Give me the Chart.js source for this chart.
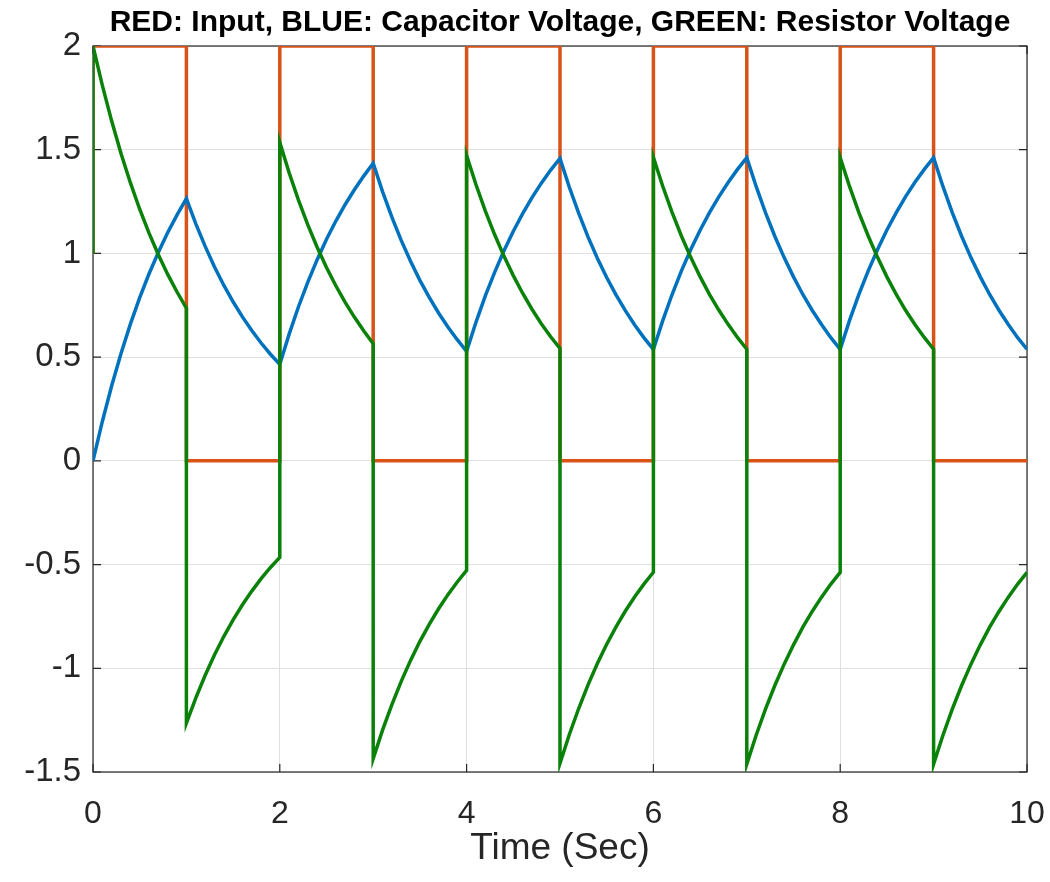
<!DOCTYPE html>
<html>
<head>
<meta charset="utf-8">
<title>RC circuit</title>
<script src="https://cdn.jsdelivr.net/npm/chart.js@4.4.1/dist/chart.umd.min.js"></script>
<style>
  html, body { margin: 0; padding: 0; background: #fff; }
  #wrap { width: 1050px; height: 882px; }
</style>
</head>
<body>
<div id="wrap"><canvas id="rcChart" width="1050" height="882"></canvas></div>
<script>
// sample times (each switching instant appears twice: before / after the edge)
const timeSec = [
  0, 0, 0.1, 0.2, 0.3, 0.4, 0.5, 0.6, 0.7, 0.8, 0.9,
  1, 1, 1.1, 1.2, 1.3, 1.4, 1.5, 1.6, 1.7, 1.8, 1.9,
  2, 2, 2.1, 2.2, 2.3, 2.4, 2.5, 2.6, 2.7, 2.8, 2.9,
  3, 3, 3.1, 3.2, 3.3, 3.4, 3.5, 3.6, 3.7, 3.8, 3.9,
  4, 4, 4.1, 4.2, 4.3, 4.4, 4.5, 4.6, 4.7, 4.8, 4.9,
  5, 5, 5.1, 5.2, 5.3, 5.4, 5.5, 5.6, 5.7, 5.8, 5.9,
  6, 6, 6.1, 6.2, 6.3, 6.4, 6.5, 6.6, 6.7, 6.8, 6.9,
  7, 7, 7.1, 7.2, 7.3, 7.4, 7.5, 7.6, 7.7, 7.8, 7.9,
  8, 8, 8.1, 8.2, 8.3, 8.4, 8.5, 8.6, 8.7, 8.8, 8.9,
  9, 9, 9.1, 9.2, 9.3, 9.4, 9.5, 9.6, 9.7, 9.8, 9.9,
  10
];

// RED: input square wave
const inputV = [
  1, 2, 2, 2, 2, 2, 2, 2, 2, 2, 2,
  2, 0, 0, 0, 0, 0, 0, 0, 0, 0, 0,
  0, 2, 2, 2, 2, 2, 2, 2, 2, 2, 2,
  2, 0, 0, 0, 0, 0, 0, 0, 0, 0, 0,
  0, 2, 2, 2, 2, 2, 2, 2, 2, 2, 2,
  2, 0, 0, 0, 0, 0, 0, 0, 0, 0, 0,
  0, 2, 2, 2, 2, 2, 2, 2, 2, 2, 2,
  2, 0, 0, 0, 0, 0, 0, 0, 0, 0, 0,
  0, 2, 2, 2, 2, 2, 2, 2, 2, 2, 2,
  2, 0, 0, 0, 0, 0, 0, 0, 0, 0, 0,
  0
];

// BLUE: capacitor voltage
const capV = [
  0, 0, 0.19, 0.362, 0.518, 0.659, 0.787, 0.902, 1.006, 1.101, 1.186,
  1.264, 1.264, 1.144, 1.035, 0.936, 0.847, 0.767, 0.694, 0.628, 0.568, 0.514,
  0.465, 0.465, 0.611, 0.743, 0.862, 0.970, 1.068, 1.156, 1.236, 1.308, 1.374,
  1.435, 1.435, 1.298, 1.175, 1.063, 0.962, 0.870, 0.788, 0.713, 0.645, 0.584,
  0.528, 0.528, 0.668, 0.795, 0.909, 1.013, 1.107, 1.192, 1.269, 1.339, 1.402,
  1.458, 1.458, 1.319, 1.194, 1.080, 0.977, 0.884, 0.800, 0.724, 0.655, 0.593,
  0.537, 0.537, 0.676, 0.802, 0.916, 1.019, 1.112, 1.197, 1.273, 1.342, 1.405,
  1.462, 1.462, 1.323, 1.197, 1.083, 0.980, 0.887, 0.802, 0.726, 0.657, 0.594,
  0.538, 0.538, 0.677, 0.803, 0.916, 1.019, 1.113, 1.197, 1.274, 1.343, 1.405,
  1.462, 1.462, 1.323, 1.197, 1.083, 0.980, 0.887, 0.802, 0.726, 0.657, 0.594,
  0.538
];

// GREEN: resistor voltage
const resV = [
  1, 2, 1.81, 1.638, 1.482, 1.341, 1.213, 1.098, 0.994, 0.899, 0.814,
  0.736, -1.264, -1.144, -1.035, -0.936, -0.847, -0.767, -0.694, -0.628, -0.568, -0.514,
  -0.465, 1.535, 1.389, 1.257, 1.138, 1.030, 0.932, 0.844, 0.764, 0.692, 0.626,
  0.565, -1.435, -1.298, -1.175, -1.063, -0.962, -0.870, -0.788, -0.713, -0.645, -0.584,
  -0.528, 1.472, 1.332, 1.205, 1.091, 0.987, 0.893, 0.808, 0.731, 0.661, 0.598,
  0.542, -1.458, -1.319, -1.194, -1.080, -0.977, -0.884, -0.800, -0.724, -0.655, -0.593,
  -0.537, 1.463, 1.324, 1.198, 1.084, 0.981, 0.888, 0.803, 0.727, 0.658, 0.595,
  0.538, -1.462, -1.323, -1.197, -1.083, -0.980, -0.887, -0.802, -0.726, -0.657, -0.594,
  -0.538, 1.462, 1.323, 1.197, 1.084, 0.981, 0.887, 0.803, 0.726, 0.657, 0.595,
  0.538, -1.462, -1.323, -1.197, -1.083, -0.980, -0.887, -0.802, -0.726, -0.657, -0.594,
  -0.538
];

const xTicks = [0, 2, 4, 6, 8, 10];
const yTicks = [-1.5, -1, -0.5, 0, 0.5, 1, 1.5, 2];
const tituloTexto = 'RED: Input, BLUE: Capacitor Voltage, GREEN: Resistor Voltage';

const FONT = "'Liberation Sans', Arial, Helvetica, sans-serif";
const AXIS_COLOR = '#262626';

function puntos(valores) {
  return timeSec.map((t, i) => ({ x: t, y: valores[i] }));
}

// matlab style box with inward ticks, title centred on the axes
const cajaEjes = {
  id: 'cajaEjes',
  beforeDatasetsDraw(chart) {
    const { ctx, chartArea: a, scales } = chart;
    const len = 8;
    ctx.save();
    ctx.strokeStyle = AXIS_COLOR;
    ctx.lineWidth = 1.2;
    ctx.strokeRect(a.left, a.top, a.right - a.left, a.bottom - a.top);
    ctx.beginPath();
    xTicks.forEach(v => {
      const px = scales.x.getPixelForValue(v);
      ctx.moveTo(px, a.bottom); ctx.lineTo(px, a.bottom - len);
      ctx.moveTo(px, a.top); ctx.lineTo(px, a.top + len);
    });
    yTicks.forEach(v => {
      const py = scales.y.getPixelForValue(v);
      ctx.moveTo(a.left, py); ctx.lineTo(a.left + len, py);
      ctx.moveTo(a.right, py); ctx.lineTo(a.right - len, py);
    });
    ctx.stroke();
    ctx.restore();
  },
  afterDraw(chart) {
    const { ctx, chartArea: a } = chart;
    ctx.save();
    ctx.fillStyle = '#000';
    ctx.font = 'bold 30px ' + FONT;
    ctx.textAlign = 'center';
    ctx.textBaseline = 'middle';
    ctx.fillText(tituloTexto, (a.left + a.right) / 2, 23);
    ctx.restore();
  }
};

new Chart(document.getElementById('rcChart').getContext('2d'), {
  type: 'scatter',
  data: {
    datasets: [
      {
        label: 'Input',
        data: puntos(inputV),
        borderColor: '#D95319',
        borderWidth: 3.5,
        showLine: true,
        pointRadius: 0,
        order: 3
      },
      {
        label: 'Capacitor Voltage',
        data: puntos(capV),
        borderColor: '#0072BD',
        borderWidth: 3.5,
        showLine: true,
        pointRadius: 0,
        order: 2
      },
      {
        label: 'Resistor Voltage',
        data: puntos(resV),
        borderColor: '#0A820A',
        borderWidth: 3.5,
        showLine: true,
        pointRadius: 0,
        order: 1
      }
    ]
  },
  options: {
    responsive: false,
    animation: false,
    layout: { padding: { left: 0, right: 0, top: 46, bottom: 0 } },
    plugins: {
      legend: { display: false },
      tooltip: { enabled: false },
      title: { display: false }
    },
    scales: {
      x: {
        type: 'linear',
        min: 0,
        max: 10,
        afterBuildTicks: s => { s.ticks = xTicks.map(v => ({ value: v })); },
        afterFit: s => { s.height = 110; s.paddingLeft = 0; s.paddingRight = 23; },
        grid: { color: '#dfdfdf', lineWidth: 1, drawTicks: false },
        border: { display: false },
        ticks: {
          color: AXIS_COLOR,
          font: { family: FONT, size: 32 },
          padding: 23,
          maxRotation: 0
        },
        title: {
          display: true,
          text: 'Time (Sec)',
          color: AXIS_COLOR,
          font: { family: FONT, size: 37 },
          padding: { top: 0, bottom: 11 }
        }
      },
      y: {
        type: 'linear',
        min: -1.5,
        max: 2,
        afterBuildTicks: s => { s.ticks = yTicks.map(v => ({ value: v })); },
        afterFit: s => { s.width = 93; s.paddingTop = 0; s.paddingBottom = 0; },
        grid: { color: '#dfdfdf', lineWidth: 1, drawTicks: false },
        border: { display: false },
        ticks: {
          color: AXIS_COLOR,
          font: { family: FONT, size: 33 },
          padding: 12,
          callback: v => String(v)
        }
      }
    }
  },
  plugins: [cajaEjes]
});
</script>
</body>
</html>
